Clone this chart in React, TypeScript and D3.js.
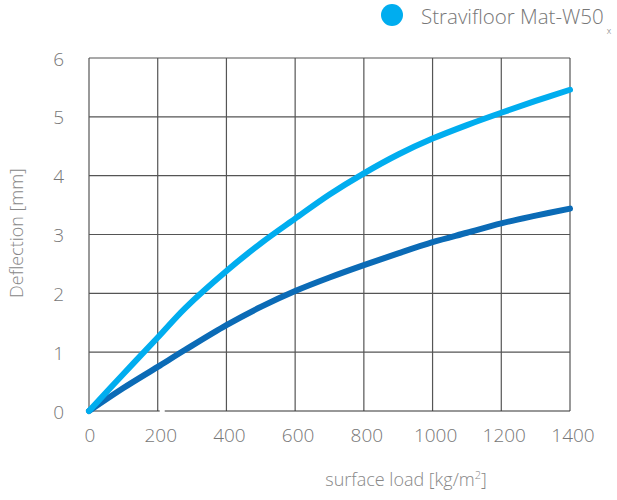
import { useEffect, useRef } from "react";
import * as d3 from "d3";

const loads = [0, 100, 200, 280, 400, 500, 600, 700, 800, 900, 1000, 1100, 1200, 1300, 1400];
const matW50 = [0, 0.63, 1.25, 1.75, 2.38, 2.85, 3.27, 3.68, 4.04, 4.36, 4.63, 4.86, 5.07, 5.27, 5.46];
const reference = [0, 0.39, 0.75, 1.04, 1.46, 1.77, 2.04, 2.27, 2.48, 2.68, 2.87, 3.03, 3.19, 3.32, 3.44];
const xTicks = [0, 200, 400, 600, 800, 1000, 1200, 1400];
const yTicks = [0, 1, 2, 3, 4, 5, 6];

const LIGHT = "#00adef";
const DARK = "#0b6bb6";
const GRID = "#555";
const TEXT = "#777";
const FONT = "'Open Sans', Lato, sans-serif";

export default function App() {
  const ref = useRef<SVGSVGElement | null>(null);

  useEffect(() => {
    const svg = d3.select(ref.current);
    svg.selectAll("*").remove();

    const W = 617, H = 500;
    const m = { l: 89, r: 47, t: 58, b: 89 };

    const x = d3.scaleLinear().domain([0, 1400]).range([m.l, W - m.r]);
    const y = d3.scaleLinear().domain([0, 6]).range([H - m.b, m.t]);

    svg.append("rect").attr("width", W).attr("height", H).attr("fill", "white");

    // grid
    const grid = svg.append("g");
    grid.selectAll("line.v")
      .data(xTicks)
      .enter()
      .append("line")
      .attr("x1", d => x(d)).attr("x2", d => x(d))
      .attr("y1", y(6)).attr("y2", y(0))
      .attr("stroke", GRID).attr("stroke-width", 1.2);
    grid.selectAll("line.h")
      .data(yTicks)
      .enter()
      .append("line")
      .attr("x1", x(0)).attr("x2", x(1400))
      .attr("y1", d => y(d)).attr("y2", d => y(d))
      .attr("stroke", d => (d === 0 ? "#333" : GRID)).attr("stroke-width", 1.2);

    // small break in the base line, as in the source
    svg.append("rect")
      .attr("x", x(200) + 2).attr("y", y(0) - 2)
      .attr("width", 5).attr("height", 4)
      .attr("fill", "white");

    // tick labels
    svg.append("g").selectAll("text")
      .data(xTicks)
      .enter()
      .append("text")
      .attr("x", d => x(d) + (d === 0 ? 1 : 3))
      .attr("y", y(0) + 31)
      .attr("text-anchor", "middle")
      .attr("font-family", FONT).attr("font-weight", 300)
      .attr("font-size", 19).attr("fill", TEXT)
      .text(d => d);

    svg.append("g").selectAll("text")
      .data(yTicks)
      .enter()
      .append("text")
      .attr("x", 64)
      .attr("y", d => y(d) + 7.5)
      .attr("text-anchor", "end")
      .attr("font-family", FONT).attr("font-weight", 300)
      .attr("font-size", 19).attr("fill", TEXT)
      .text(d => d);

    // axis titles
    svg.append("text")
      .attr("transform", `translate(23,233) rotate(-90)`)
      .attr("text-anchor", "middle")
      .attr("font-family", FONT).attr("font-weight", 300)
      .attr("font-size", 18).attr("fill", "#888")
      .text("Deflection [mm]");

    const xt = svg.append("text")
      .attr("x", 406).attr("y", 486)
      .attr("text-anchor", "middle")
      .attr("font-family", FONT).attr("font-weight", 300)
      .attr("font-size", 18).attr("fill", "#888");
    xt.append("tspan").text("surface load [kg/m");
    xt.append("tspan").attr("font-size", 11).attr("dy", -7).text("2");
    xt.append("tspan").attr("dy", 7).text("]");

    // series
    const line = d3.line<number>()
      .x((_, i) => x(loads[i]))
      .y(d => y(d))
      .curve(d3.curveCatmullRom.alpha(0.5));

    svg.append("path")
      .datum(reference)
      .attr("d", line)
      .attr("fill", "none")
      .attr("stroke", DARK)
      .attr("stroke-width", 6)
      .attr("stroke-linecap", "round")
      .attr("stroke-linejoin", "round");

    svg.append("path")
      .datum(matW50)
      .attr("d", line)
      .attr("fill", "none")
      .attr("stroke", LIGHT)
      .attr("stroke-width", 6)
      .attr("stroke-linecap", "round")
      .attr("stroke-linejoin", "round");

    // legend
    svg.append("circle")
      .attr("cx", 392).attr("cy", 15).attr("r", 11)
      .attr("fill", LIGHT);
    const lt = svg.append("text")
      .attr("x", 421).attr("y", 23.5)
      .attr("font-family", FONT).attr("font-weight", 300)
      .attr("font-size", 20.5).attr("fill", TEXT);
    lt.append("tspan").text("Stravifloor Mat-W50");
    lt.append("tspan").attr("font-size", 9).attr("dy", 10).attr("dx", 3).text("x");
  }, []);

  return (
    <svg
      ref={ref}
      width={617}
      height={500}
      style={{ position: "absolute", left: 0, top: 0, display: "block" }}
    />
  );
}
